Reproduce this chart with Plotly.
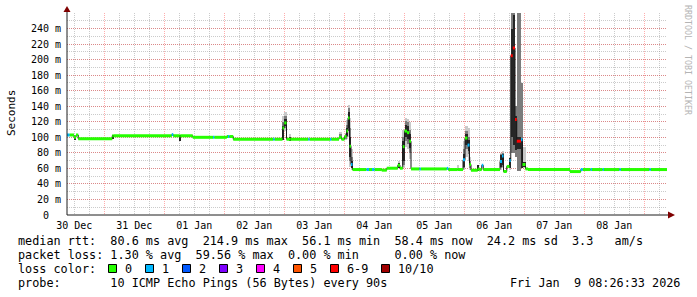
import plotly.graph_objects as go
from datetime import datetime, timedelta

# ---------------- data ----------------
START = datetime(2025, 12, 30, 9, 5, 0)
SPAN_HOURS = 240

# start of each step (hours after START); each step lasts until the next one
seg_start_h = [0.0, 1.0, 2.8, 3.6, 4.5, 18.1, 18.6, 41.9, 42.5, 45.0,
               45.4, 50.3, 58.4, 58.9, 63.9, 64.4, 64.9, 66.5, 82.5, 83.0,
               86.2, 86.9, 87.8, 88.8, 89.4, 96.5, 97.0, 105.2, 105.7, 108.8,
               109.8, 111.0, 111.8, 112.4, 113.0, 113.6, 114.2, 119.8, 120.8, 122.0,
               123.0, 125.9, 127.9, 132.3, 133.2, 134.3, 135.0, 136.0, 136.9, 137.6,
               141.0, 141.5, 151.9, 152.5, 156.3, 156.8, 158.4, 159.2, 160.2, 161.0,
               161.6, 164.3, 164.9, 165.9, 166.5, 173.2, 174.0, 174.6, 175.9, 177.0,
               177.5, 178.3, 179.2, 179.9, 181.6, 182.2, 183.4, 184.4, 201.2, 205.5,
               206.3, 209.5, 210.0, 214.3, 214.8, 221.0, 221.5, 233.0, 233.5]
# median rtt (ms)
median_ms = [103, 103, 100, 103, 98, 102, 102, 103.5, 102, 102,
             102, 100, 100, 100, 101, 101, 101, 97.5, 97.5, 97.5,
             112, 118.5, 97.5, 97.5, 97.5, 97.5, 97.5, 97.5, 97.5, 100,
             97.5, 101, 108, 125, 88.5, 65, 58.5, 58.5, 58.5, 58.5,
             58.5, 57.7, 60.2, 64, 60.2, 88, 108, 106, 95, 59.3,
             59.3, 59.3, 60, 58.5, 58.5, 58.5, 71, 99, 90, 65,
             57.6, 59, 58.5, 64, 58.5, 69, 76, 56, 62.5, 70,
             205, 215, 123, 95, 97, 65, 59.3, 58.5, 55.9, 58.5,
             58.5, 58.5, 58.5, 58.5, 58.5, 58.5, 58.5, 58.5, 58.5]
# lost pings out of 10
loss_count = [1, 0, 0, 0, 0, 0, 0, 1, 0, 0,
              0, 0, 1, 0, 0, 1, 0, 0, 1, 0,
              0, 0, 0, 0, 0, 1, 0, 1, 0, 0,
              0, 0, 0, 0, 0, 1, 0, 1, 0, 1,
              0, 0, 0, 0, 0, 0, 0, 0, 0, 0,
              1, 0, 1, 0, 0, 0, 1, 0, 1, 0,
              0, 0, 0, 1, 0, 1, 1, 0, 0, 1,
              7, 7, 7, 7, 1, 0, 0, 0, 0, 1,
              0, 1, 0, 1, 0, 1, 0, 1, 0]
N = None
# smoke: outer (light), middle, inner (dark) ranges in ms
smoke_outer_lo = [N, N, N, N, N, N, N, N, N, N,
                  N, N, N, N, N, N, N, N, N, N,
                  97, 108, N, 96, N, N, N, N, N, 98,
                  N, 97, 98, 100, 62, 58, N, N, N, N,
                  N, N, N, 60, N, 62, 88, 85, 72, N,
                  N, N, N, N, 58, N, 58, 75, 70, 58,
                  N, N, N, N, N, 58, 60, N, N, 58,
                  N, N, N, N, N, 60, N, N, N, N,
                  N, N, N, N, N, N, N, N, N]
smoke_outer_hi = [N, N, N, N, N, N, N, N, N, N,
                  N, N, N, N, N, N, N, N, N, N,
                  127, 133, N, 104, N, N, N, N, N, 107,
                  N, 106, 122, 142, 125, 85, N, N, N, N,
                  N, N, N, 70, N, 110, 125, 124, 120, N,
                  N, N, N, N, 64, N, 95, 114, 112, 75,
                  N, N, N, N, N, 80, 82, N, N, 75,
                  N, N, N, N, N, 88, N, N, N, N,
                  N, N, N, N, N, N, N, N, N]
smoke_mid_lo = [N, N, N, N, N, N, N, N, N, N,
                N, N, N, N, N, N, N, N, N, N,
                97, 112, N, N, N, N, N, N, N, 99,
                N, 98, 100, 108, 70, 60, N, N, N, N,
                N, N, N, N, N, 65, 95, 92, 80, N,
                N, N, N, N, N, N, 60, 85, 78, 60,
                N, N, N, N, N, 60, 62, N, N, N,
                80, 80, 75, 56, 60, N, N, N, N, N,
                N, N, N, N, N, N, N, N, N]
smoke_mid_hi = [N, N, N, N, N, N, N, N, N, N,
                N, N, N, N, N, N, N, N, N, N,
                120, 128, N, N, N, N, N, N, N, 104,
                N, 104, 116, 138, 112, 75, N, N, N, N,
                N, N, N, N, N, 100, 121, 120, 110, N,
                N, N, N, N, N, N, 85, 108, 100, 70,
                N, N, N, N, N, 78, 80, N, N, N,
                260, 260, 140, 260, 170, N, N, N, N, N,
                N, N, N, N, N, N, N, N, N]
smoke_inner_lo = [N, N, 96, N, N, 98, N, N, N, 95,
                  N, N, N, N, N, N, N, N, N, N,
                  97, 114, N, 95, N, N, N, N, N, N,
                  N, N, 102, 112, 75, 60, N, N, N, N,
                  N, N, N, 60, N, 70, 100, 98, 86, N,
                  N, N, N, N, N, N, 62, 90, 82, N,
                  N, 57, N, N, N, 62, 65, N, N, 60,
                  100, 90, 84, 85, 60, 62, N, N, N, N,
                  N, N, N, N, N, N, N, N, N]
smoke_inner_hi = [N, N, 101, N, N, 103, N, N, N, 103,
                  N, N, N, N, N, N, N, N, N, N,
                  115, 124, N, 100, N, N, N, N, N, N,
                  N, N, 112, 132, 100, 70, N, N, N, N,
                  N, N, N, 67, N, 95, 116, 114, 104, N,
                  N, N, N, N, N, N, 78, 104, 96, N,
                  N, 65, N, N, N, 77, 78, N, N, 73,
                  239, 258, 127, 100, 98, 68, N, N, N, N,
                  N, N, N, N, N, N, N, N, N]

loss_labels = ["0", "1", "2", "3", "4", "5", "6-9", "10/10"]
loss_colors = ["#26ff00", "#00b8ff", "#0059ff", "#7e00ff", "#ff00ff",
               "#ff5500", "#ff0000", "#a00000"]

y_tickvals = [0, 20, 40, 60, 80, 100, 120, 140, 160, 180, 200, 220, 240]
y_ticktext = ["0\u00a0\u00a0", "20 m", "40 m", "60 m", "80 m", "100 m", "120 m",
              "140 m", "160 m", "180 m", "200 m", "220 m", "240 m"]

stats_lines = [
    "median rtt:  80.6 ms avg  214.9 ms max  56.1 ms min  58.4 ms now  24.2 ms sd  3.3   am/s",
    "packet loss: 1.30 % avg  59.56 % max  0.00 % min     0.00 % now",
    "loss color:",
    "probe:       10 ICMP Echo Pings (56 Bytes) every 90s",
]
stamp_text = "Fri Jan  9 08:26:33 2026"
side_text = "RRDTOOL / TOBI OETIKER"

# ---------------- helpers ----------------
MONO = "DejaVu Sans Mono"
L, R, T, B = 67, 30, 13, 82
W, H = 697, 297
PW, PH = W - L - R, H - T - B


def px(x):
    return (x - L) / PW


def py(y):
    return (T + PH - y) / PH


def when(h):
    return START + timedelta(hours=h)


n = len(seg_start_h)
seg_end_h = seg_start_h[1:] + [SPAN_HOURS]


def bucket(c):
    if c <= 5:
        return c
    if c < 10:
        return 6
    return 7


fig = go.Figure()

# smoke columns
for lo, hi, col in [(smoke_outer_lo, smoke_outer_hi, "#c9c9c9"),
                    (smoke_mid_lo, smoke_mid_hi, "#7c7c7c"),
                    (smoke_inner_lo, smoke_inner_hi, "#262626")]:
    xs, bs, hs, ws = [], [], [], []
    for i in range(n):
        if lo[i] is None:
            continue
        t0, t1 = seg_start_h[i], seg_end_h[i]
        xs.append(when((t0 + t1) / 2))
        bs.append(lo[i])
        hs.append(hi[i] - lo[i])
        ws.append((t1 - t0) * 3600 * 1000)
    fig.add_trace(go.Bar(x=xs, y=hs, base=bs, width=ws, marker_color=col,
                         marker_line_width=0, showlegend=False, hoverinfo="skip"))

# thin dark step line connecting medians
fig.add_trace(go.Scatter(x=[when(t) for t in seg_start_h] + [when(SPAN_HOURS)],
                         y=median_ms + [median_ms[-1]], mode="lines",
                         line=dict(color="#1a1a1a", width=1, shape="hv"),
                         showlegend=False, hoverinfo="skip"))

# median coloured by loss
for b, col in enumerate(loss_colors):
    xs, ys = [], []
    for i in range(n):
        if bucket(loss_count[i]) != b:
            continue
        xs += [when(seg_start_h[i]), when(seg_end_h[i]), None]
        ys += [median_ms[i], median_ms[i], None]
    if xs:
        fig.add_trace(go.Scatter(x=xs, y=ys, mode="lines",
                                 line=dict(color=col, width=3),
                                 showlegend=False, hoverinfo="skip"))

shapes = []
AX = "#1e1e1e"
ARROW = "#7f0000"
# axis lines with arrows
shapes.append(dict(type="line", xref="paper", yref="paper", x0=px(L), x1=px(669),
                   y0=0, y1=0, line=dict(color=AX, width=1)))
shapes.append(dict(type="line", xref="paper", yref="paper", x0=0, x1=0,
                   y0=0, y1=py(10), line=dict(color=AX, width=1)))
shapes.append(dict(type="path", xref="paper", yref="paper",
                   path=f"M {px(668)} {py(211.5)} L {px(675)} {py(215)} L {px(668)} {py(218.5)} Z",
                   fillcolor=ARROW, line=dict(width=0)))
shapes.append(dict(type="path", xref="paper", yref="paper",
                   path=f"M {px(63.5)} {py(12)} L {px(67)} {py(6)} L {px(70.5)} {py(12)} Z",
                   fillcolor=ARROW, line=dict(width=0)))

annotations = []
line_y = [241, 255, 269, 283]
for txt, yy in zip(stats_lines, line_y):
    annotations.append(dict(text=txt.replace(" ", "\u00a0"), xref="paper", yref="paper",
                            x=px(15.5), y=py(yy), xanchor="left", yanchor="middle",
                            showarrow=False, font=dict(family=MONO, size=11.8, color="#000")))
annotations.append(dict(text=stamp_text.replace(" ", "\u00a0"), xref="paper", yref="paper",
                        x=px(682), y=py(line_y[3]), xanchor="right", yanchor="middle",
                        showarrow=False, font=dict(family=MONO, size=11.8, color="#000")))

# loss colour legend boxes
box_x = [108.5, 145.5, 182.5, 219.5, 256.5, 293.5, 330.5, 381.5]
for bx, col, lab in zip(box_x, loss_colors, loss_labels):
    shapes.append(dict(type="rect", xref="paper", yref="paper",
                       x0=px(bx), x1=px(bx + 8), y0=py(264.5), y1=py(272.5),
                       fillcolor=col, line=dict(color="#000", width=1)))
    annotations.append(dict(text=lab, xref="paper", yref="paper",
                            x=px(bx + 14.5), y=py(line_y[2]), xanchor="left", yanchor="middle",
                            showarrow=False, font=dict(family=MONO, size=11.8, color="#000")))

annotations.append(dict(text="Seconds", xref="paper", yref="paper", x=px(11), y=py(113),
                        xanchor="center", yanchor="middle", textangle=-90, showarrow=False,
                        font=dict(family=MONO, size=11, color="#000")))
annotations.append(dict(text=side_text.replace(" ", "\u00a0"), xref="paper", yref="paper",
                        x=px(688), y=py(60), xanchor="center", yanchor="middle",
                        textangle=90, showarrow=False,
                        font=dict(family=MONO, size=8.3, color="#b4b4b4")))

GRID = "rgba(140,140,140,0.45)"
MGRID = "rgba(255,0,0,0.32)"
fig.update_layout(
    width=W, height=H, margin=dict(l=L, r=R, t=T, b=B, pad=0),
    paper_bgcolor="#ffffff", plot_bgcolor="#ffffff",
    barmode="overlay", bargap=0, showlegend=False,
    shapes=shapes, annotations=annotations,
    xaxis=dict(type="date", range=[when(0), when(SPAN_HOURS)],
               tick0="2025-12-31 00:00:00", dtick=86400000,
               ticklabelmode="period", tickformat="%d %b",
               showgrid=True, gridcolor=MGRID, griddash="1px,1px", gridwidth=1,
               minor=dict(dtick=6 * 3600 * 1000, tick0="2025-12-31 00:00:00",
                          showgrid=True, gridcolor=GRID, griddash="1px,1px", gridwidth=1),
               ticks="", showline=False, zeroline=False, ticklabelstandoff=3,
               tickfont=dict(family=MONO, size=10, color="#000")),
    yaxis=dict(range=[0, 260], tickmode="array", tickvals=y_tickvals, ticktext=y_ticktext,
               showgrid=True, gridcolor=MGRID, griddash="1px,1px", gridwidth=1,
               minor=dict(tickmode="linear", tick0=0, dtick=10, showgrid=True,
                          gridcolor=GRID, griddash="1px,1px", gridwidth=1),
               ticks="", showline=False, zeroline=False, ticklabelstandoff=5,
               tickfont=dict(family=MONO, size=10, color="#000")),
)

fig.write_html("out.html")
